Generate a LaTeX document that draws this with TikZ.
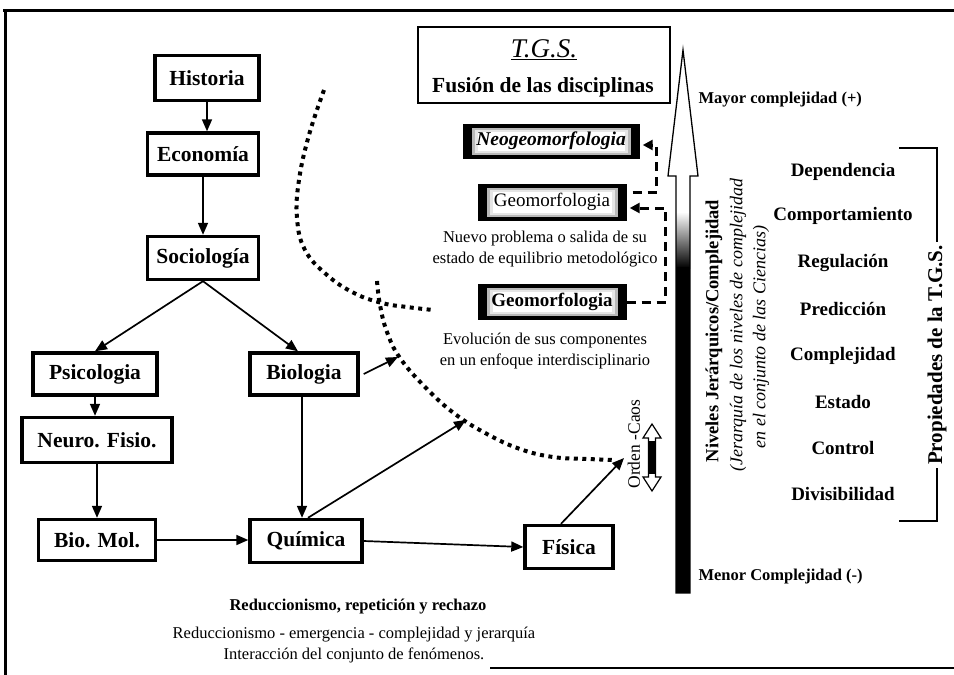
\documentclass[tikz,border=0pt]{standalone}
\usepackage{fontspec}
\setmainfont{Liberation Serif}
\usetikzlibrary{arrows.meta,calc}

\newcommand{\fsz}[1]{\fontsize{#1}{#1}\selectfont}

\begin{document}
\begin{tikzpicture}[x=1pt,y=-1pt,
  box/.style={draw,line width=3.4pt,fill=white,inner sep=0pt,
    font=\fsz{21.5}\bfseries},
  link/.style={line width=1.7pt,-{Triangle[length=12pt,width=10pt]}},
  dots/.style={line width=4pt,dash pattern=on 4pt off 4.5pt},
  dashlink/.style={line width=3pt,dash pattern=on 9pt off 6pt,
    -{Triangle[length=10pt,width=10pt]}},
  darkbox/.style={fill=black,inner sep=0pt,
    path picture={
      \fill[gray!55] ($(path picture bounding box.south west)+(9,-4)$)
        rectangle ($(path picture bounding box.north east)+(-9,4)$);
      \fill[gray!20] ($(path picture bounding box.south west)+(12,-6)$)
        rectangle ($(path picture bounding box.north east)+(-12,6)$);
      \fill[white] ($(path picture bounding box.south west)+(15,-8)$)
        rectangle ($(path picture bounding box.north east)+(-15,8)$);
    }},
  prop/.style={font=\fsz{19}\bfseries},
  note/.style={font=\fontsize{16.5}{21}\selectfont,align=center},
  bracket/.style={line width=2.6pt}
]
\useasboundingbox (0,0) rectangle (954,675);

% outer frame
\draw[line width=3pt] (3,10) -- (954,10);
\draw[line width=3pt] (5,10) -- (5,675);
\draw[line width=2pt] (490,668) -- (954,668);

% disciplines, from history down to physics
\node[box,minimum width=104pt,minimum height=45pt] (hist)   at (207,78)  {Historia};
\node[box,minimum width=111pt,minimum height=42pt] (econ)   at (203,154) {Economía};
\node[box,minimum width=111pt,minimum height=43pt] (soc)    at (203,258) {Sociología};
\node[box,minimum width=124pt,minimum height=42pt] (psi)    at (95,374)  {Psicologia};
\node[box,minimum width=150pt,minimum height=45pt] (neuro)  at (97,440)  {Neuro. Fisio.};
\node[box,minimum width=117pt,minimum height=41pt] (biomol) at (97,540)  {Bio. Mol.};
\node[box,minimum width=108pt,minimum height=42pt] (biol)   at (304,374) {Biologia};
\node[box,minimum width=112pt,minimum height=43pt] (quim)   at (306,541) {Química};
\node[box,minimum width=88pt,minimum height=43pt]  (fis)    at (569,547) {Física};

% free ends of the outgoing arrows
\coordinate (b1) at (398,357);
\coordinate (q1) at (466,420);
\coordinate (f1) at (624,458);

\draw[link] (hist.south) -- (hist.south |- econ.north);
\draw[link] (econ.south) -- (econ.south |- soc.north);
\draw[link] (soc.south) -- (psi.north);
\draw[link] (soc.south) -- ([xshift=-6pt]biol.north);
\draw[link] (psi.south) -- (psi.south |- neuro.north);
\draw[link] (neuro.south) -- (neuro.south |- biomol.north);
\draw[link] (biomol.east) -- (biomol.east -| quim.west);
\draw[link] ([xshift=-2pt]biol.south) -- ([xshift=-2pt]biol.south |- quim.north);
\draw[link] ([xshift=4pt]biol.east) -- (b1);
\draw[link] ([xshift=2pt]quim.north) -- (q1);
\draw[link] (quim.east) -- (fis.west);
\draw[link] ([xshift=-8pt]fis.north) -- (f1);

% dotted boundaries
\draw[dots] plot[smooth,tension=0.7] coordinates
  {(324,90) (309,135) (299,180) (297,218) (305,250) (327,275) (354,293) (382,303) (407,307) (433,310)};
\draw[dots] plot[smooth,tension=0.7] coordinates
  {(377,281) (380,305) (387,332) (400,358) (426,388) (455,414) (487,434) (520,449) (553,457) (588,459) (616,460)};

% T.G.S. title box
\node[draw,line width=1.4pt,minimum width=252pt,minimum height=76pt] (tgs) at (544,65) {};
\node[font=\fsz{27}] (tgsT) at (544,50) {\underline{\textit{T.G.S.}}};
\node[font=\fsz{21.5}\bfseries] (tgsF) at (543,87) {Fusión de las disciplinas};

% geomorphology stages
\node[darkbox,minimum width=177pt,minimum height=35pt] (neo) at (551,141)
  {\fsz{19.5}\bfseries\itshape Neogeomorfologia};
\node[darkbox,minimum width=149pt,minimum height=37pt] (geo1) at (552,202)
  {\fsz{19}Geomorfologia};
\node[darkbox,minimum width=149pt,minimum height=36pt] (geo2) at (552,302)
  {\fsz{19}\bfseries Geomorfologia};
\node[note] (n1) at (545,249) {Nuevo problema o salida de su\\estado de equilibrio metodológico};
\node[note] (n2) at (545,351) {Evolución de sus componentes\\en un enfoque interdisciplinario};

\draw[dashlink] (geo2.east) -- ++(39,0) |- ([xshift=3pt,yshift=-6pt]geo1.east);
\draw[dashlink] ([xshift=6pt,yshift=10pt]geo1.east) -- ++(24,0) |- ([xshift=3pt,yshift=-4pt]neo.east);

% order-chaos double arrow
\node[font=\fsz{17.5},rotate=90] (orden) at (634,444) {Orden -Caos};
\filldraw[fill=white,line width=1.2pt] (652,424) -- (661,438) -- (655.5,438) -- (655.5,477)
  -- (661,477) -- (652,491) -- (643,477) -- (648.5,477) -- (648.5,438) -- (643,438) -- cycle;
\fill[black] (648.5,441) rectangle (655.5,474);

% hierarchy arrow
\fill[white] (683,50) -- (698,176) -- (690,176) -- (690,593) -- (676,593) -- (676,176) -- (668,176) -- cycle;
\shade[top color=white,bottom color=black] (676,212) rectangle (690,268);
\fill[black] (676,267) rectangle (690,593);
\draw[line width=1.3pt,line join=miter] (683,50) -- (698,176) -- (690,176) -- (690,593) -- (676,593)
  -- (676,176) -- (668,176) -- cycle;

\node[font=\fsz{16.5}\bfseries,anchor=west] (mayor) at (695,100) {Mayor complejidad (+)};
\node[font=\fsz{16.5}\bfseries,anchor=west] (menor) at (695,577) {Menor Complejidad (-)};
\node[font=\fsz{18.5}\bfseries,rotate=90] (niv) at (714,331) {Niveles Jerárquicos/Complejidad};
\node[font=\fsz{18}\itshape,rotate=90] (jer1) at (738,325) {(Jerarquía de los niveles de complejidad};
\node[font=\fsz{18}\itshape,rotate=90] (jer2) at (761,337) {en el conjunto de las Ciencias)};

% properties of the general systems theory
\node[prop] (p1) at (843,172) {Dependencia};
\node[prop] (p2) at (843,216) {Comportamiento};
\node[prop] (p3) at (843,263) {Regulación};
\node[prop] (p4) at (843,309) {Predicción};
\node[prop] (p5) at (843,356) {Complejidad};
\node[prop] (p6) at (843,402) {Estado};
\node[prop] (p7) at (843,448) {Control};
\node[prop] (p8) at (843,494) {Divisibilidad};

\node[font=\fsz{21}\bfseries,rotate=90,inner sep=3pt] (props) at (937,355) {Propiedades de la T.G.S.};
\coordinate (btop) at (899,148);
\coordinate (bbot) at (899,521);
\draw[bracket] (btop) -| (props.east);
\draw[bracket] (bbot) -| (props.west);

% closing remarks
\node[font=\fsz{16.5}\bfseries] (r1) at (358,607) {Reduccionismo, repetición y rechazo};
\node[note] (r2) at (354,645) {Reduccionismo - emergencia - complejidad y jerarquía\\Interacción del conjunto de fenómenos.};
\end{tikzpicture}
\end{document}
